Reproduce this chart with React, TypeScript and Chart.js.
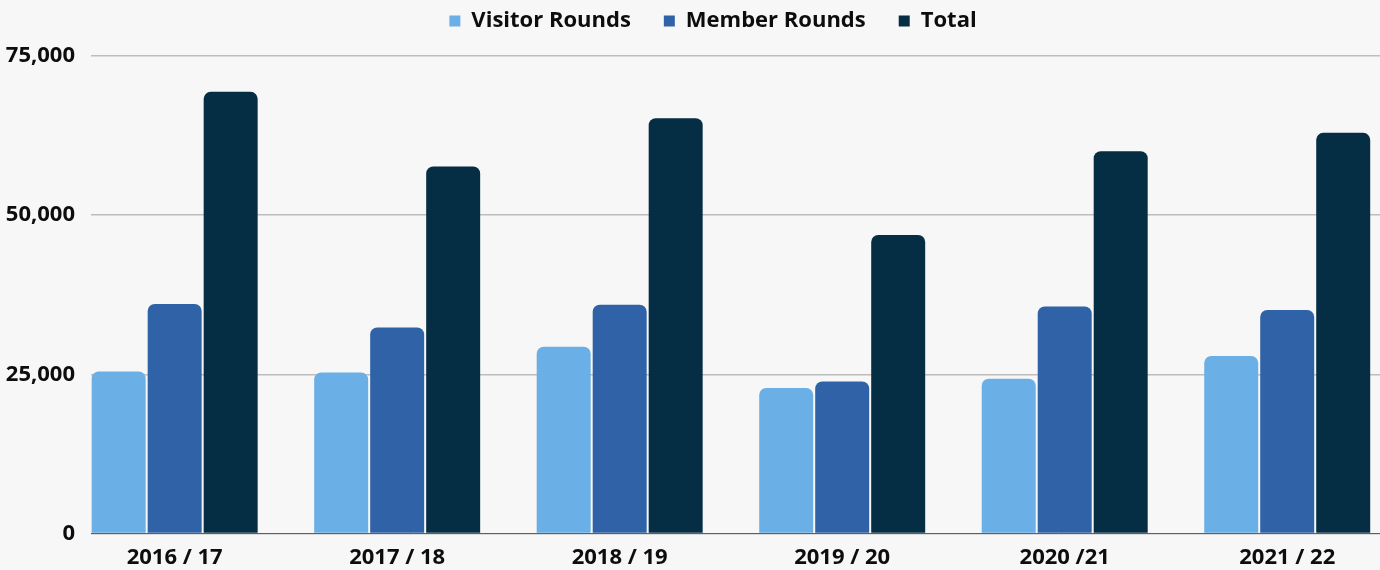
import React, { useEffect, useRef } from 'react';
import { Chart, registerables } from 'chart.js';

Chart.register(...registerables);

const categories = ['2016 / 17', '2017 / 18', '2018 / 19', '2019 / 20', '2020 /21', '2021 / 22'];
const visitorRounds = [25470, 25310, 29350, 22870, 24330, 27890];
const memberRounds = [36050, 32380, 35940, 23900, 35680, 35110];
const totalRounds = [69370, 57640, 65240, 46880, 60060, 62930];
const yTickValues = [0, 25000, 50000, 75000];
const yAxisMax = 77200;

const seriesNames = ['Visitor Rounds', 'Member Rounds', 'Total'];
const seriesColors = ['#6AAFE6', '#2F62A6', '#052D44'];

const labelOverflowPlugin = {
  id: 'labelOverflow',
  afterLayout(chart: any) {
    const y = chart.scales.y;
    if (y) y.left = 0;
  },
};

export default function App() {
  const canvasRef = useRef<HTMLCanvasElement | null>(null);

  useEffect(() => {
    document.body.style.margin = '0';
    document.body.style.background = '#f7f7f7';
    const canvas = canvasRef.current;
    if (!canvas) return;
    const font = { family: "'Open Sans', sans-serif", size: 22, weight: 'bold' as const };
    const textColor = '#0d0d0d';
    const values = [visitorRounds, memberRounds, totalRounds];

    const chart = new Chart(canvas, {
      type: 'bar',
      data: {
        labels: categories,
        datasets: seriesNames.map((name, i) => ({
          label: name,
          data: values[i],
          backgroundColor: seriesColors[i],
          borderWidth: 0,
          borderRadius: 7,
          borderSkipped: 'start' as const,
          categoryPercentage: 0.755,
          barPercentage: 0.964,
        })),
      },
      plugins: [labelOverflowPlugin],
      options: {
        responsive: false,
        animation: false,
        devicePixelRatio: 1,
        layout: { padding: { top: -23, left: 46, right: 0, bottom: -12 } },
        plugins: {
          tooltip: { enabled: false },
          title: { display: false },
          legend: {
            position: 'top',
            align: 'center',
            labels: {
              boxWidth: 11,
              boxHeight: 11,
              padding: 33,
              font,
              color: textColor,
            },
          },
        },
        scales: {
          x: {
            grid: { display: false, drawTicks: false },
            border: { display: true, color: '#5f5f5f', width: 1 },
            ticks: { font, color: textColor, padding: 11, maxRotation: 0, autoSkip: false },
            afterBuildTicks: (s: any) => {
              s._startValue = -0.376;
              s._valueRange = 5.793;
            },
          },
          y: {
            min: 0,
            max: yAxisMax,
            afterBuildTicks: (s: any) => {
              s.ticks = yTickValues.map((v) => ({ value: v }));
            },
            ticks: {
              font,
              color: textColor,
              padding: 16,
              callback: (v: any) => Number(v).toLocaleString('en-US'),
            },
            grid: { color: '#bdbdbd', lineWidth: 1.5, drawTicks: false },
            border: { display: false },
            afterFit: (s: any) => {
              s.width = 45;
            },
          },
        },
      },
    });
    return () => chart.destroy();
  }, []);

  return (
    <div style={{ position: 'absolute', left: 0, top: 0, width: 1380, height: 570, background: '#f7f7f7' }}>
      <canvas ref={canvasRef} width={1380} height={570} style={{ display: 'block' }} />
    </div>
  );
}
